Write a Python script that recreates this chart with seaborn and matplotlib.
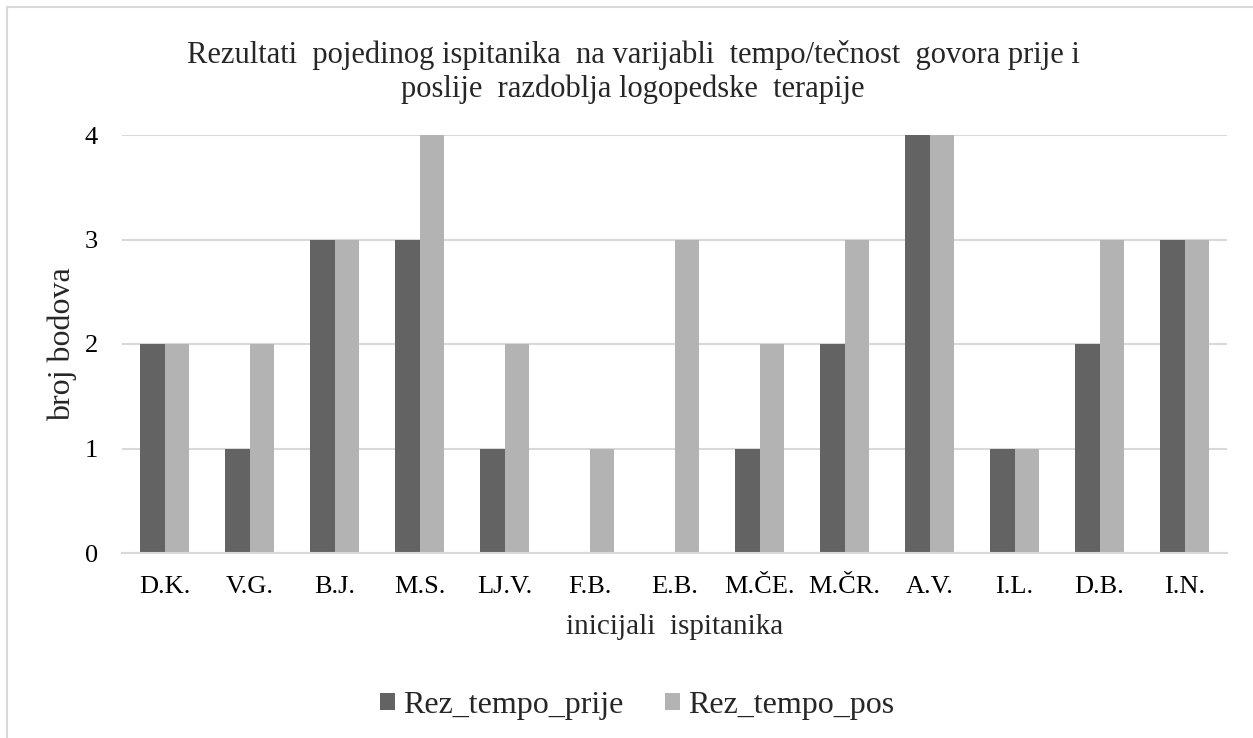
import matplotlib
matplotlib.use("Agg")
import matplotlib.pyplot as plt
import seaborn as sns
import pandas as pd
import numpy as np
from matplotlib.lines import Line2D

categories = ["D.K.", "V.G.", "B.J.", "M.S.", "LJ.V.", "F.B.", "E.B.", "M.ČE.", "M.ČR.", "A.V.", "I.L.", "D.B.", "I.N."]
rez_prije = [2, 1, 3, 3, 1, 0, 0, 1, 2, 4, 1, 2, 3]
rez_pos = [2, 2, 3, 4, 2, 1, 3, 2, 3, 4, 1, 3, 3]
series_names = ["Rez_tempo_prije", "Rez_tempo_pos"]
colors = ["#636363", "#b3b3b3"]

df = pd.DataFrame({
    "ispitanik": categories * 2,
    "bodovi": rez_prije + rez_pos,
    "serija": [series_names[0]] * len(categories) + [series_names[1]] * len(categories),
})

sns.set_theme(style="white")
plt.rcParams["font.family"] = ["Liberation Serif", "DejaVu Serif"]

W, H = 1253, 738
fig = plt.figure(figsize=(W / 100, H / 100), dpi=100)
ax_left, ax_right, ax_top, ax_bottom = 122, 1227, 135, 553
ax = fig.add_axes([ax_left / W, 1 - ax_bottom / H, (ax_right - ax_left) / W, (ax_bottom - ax_top) / H])

sns.barplot(data=df, x="ispitanik", y="bodovi", hue="serija", palette=colors,
            width=0.57, gap=0, ax=ax, saturation=1, legend=True, errorbar=None,
            linewidth=0)

ax.set_ylim(0, 4)
ax.set_yticks([0, 1, 2, 3, 4])
ax.set_xlim(-0.5, len(categories) - 0.5)
ax.set_xticks(np.arange(len(categories) + 1) - 0.5, minor=True)
ax.yaxis.grid(True, color="#d9d9d9", linewidth=1.5)
ax.set_axisbelow(True)
for s in ["top", "right", "left"]:
    ax.spines[s].set_visible(False)
ax.spines["bottom"].set_color("#d9d9d9")
ax.spines["bottom"].set_linewidth(1.5)
ax.tick_params(axis="both", which="major", length=0, labelsize=19, colors="black")
ax.tick_params(axis="x", which="minor", length=5, width=1.5, color="#d9d9d9", direction="out")
ax.tick_params(axis="y", which="minor", length=0)
ax.tick_params(axis="x", which="major", pad=16.5)
ax.tick_params(axis="y", which="major", pad=17.5)

ax.set_xlabel("inicijali  ispitanika", fontsize=21)
ax.xaxis.label.set_va("baseline")
ax.xaxis.set_label_coords(0.5, -(634 - ax_bottom) / (ax_bottom - ax_top))
ax.set_ylabel("broj bodova", fontsize=23)
ax.yaxis.set_label_coords((77 - ax_left) / (ax_right - ax_left), 0.5)

cx = 633 / W
fig.text(cx, 1 - 63 / H,
         "Rezultati  pojedinog ispitanika  na varijabli  tempo/tečnost  govora prije i",
         ha="center", va="baseline", fontsize=22)
fig.text(cx, 1 - 97 / H,
         "poslije  razdoblja logopedske  terapije",
         ha="center", va="baseline", fontsize=22)

leg = ax.legend(loc="center", bbox_to_anchor=(637 / W, 1 - 705.5 / H), bbox_transform=fig.transFigure,
                ncol=2, frameon=False, fontsize=23, handlelength=0.47, handleheight=0.47,
                handletextpad=0.25, columnspacing=1.3, borderaxespad=0, borderpad=0)

fig.add_artist(Line2D([7 / W, 7 / W], [0, 1 - 7 / H], transform=fig.transFigure,
                      color="#d9d9d9", linewidth=1.5))
fig.add_artist(Line2D([7 / W, 1], [1 - 7 / H, 1 - 7 / H], transform=fig.transFigure,
                      color="#d9d9d9", linewidth=1.5))

fig.savefig("out.png", dpi=100, facecolor="white")
